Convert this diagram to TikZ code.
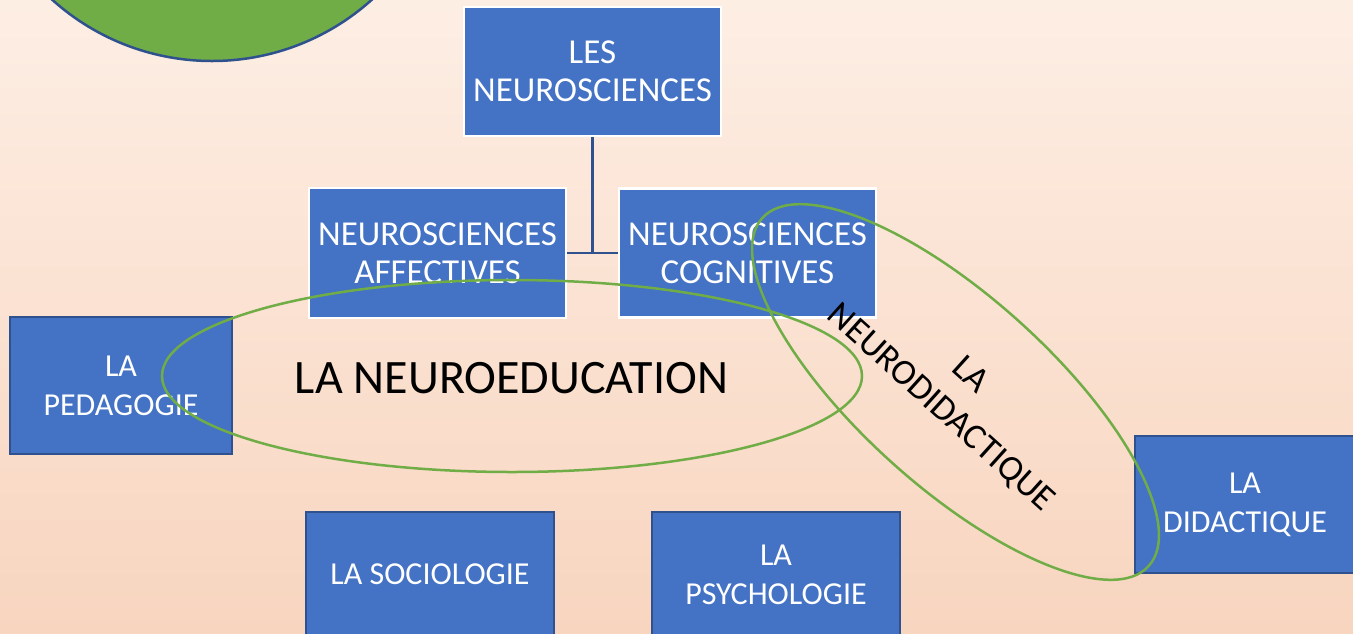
\documentclass[tikz,border=0pt]{standalone}
\usepackage{fontspec}
\setmainfont{Carlito}
\definecolor{bgtop}{HTML}{FDEEE4}
\definecolor{bgbot}{HTML}{F8D5BF}
\definecolor{boxblue}{HTML}{4472C4}
\definecolor{boxedge}{HTML}{2F528F}
\definecolor{lgreen}{HTML}{70AD47}
\tikzset{
  box/.style={rectangle, fill=boxblue, inner sep=0pt, align=center, text=white,
    font=\fontsize{32}{39}\selectfont},
  wbox/.style={box, draw=white, line width=2.5pt, font=\fontsize{35}{38}\selectfont},
  dbox/.style={box, draw=boxedge, line width=2pt},
  link/.style={draw=boxedge, line width=2.5pt},
  gring/.style={draw=lgreen, line width=2.5pt},
}
\begin{document}
\begin{tikzpicture}[x=1pt,y=1pt]
\useasboundingbox (0,0) rectangle (1353,-633);
\shade[top color=bgtop, bottom color=bgbot] (0,0) rectangle (1353,-633);
\begin{scope}
\clip (0,0) rectangle (1353,-633);
\draw[fill=lgreen, draw=boxedge, line width=2.5pt] (212,178) circle (239pt);
\node[wbox, minimum width=257pt, minimum height=129pt] (ns) at (592.5,-71.5) {LES\\NEUROSCIENCES};
\node[wbox, minimum width=257pt, minimum height=130pt] (aff) at (437.5,-253) {NEUROSCIENCES\\AFFECTIVES};
\node[wbox, minimum width=257pt, minimum height=129pt] (cog) at (747.5,-253) {NEUROSCIENCES\\COGNITIVES};
\node[dbox, minimum width=222pt, minimum height=137pt] (ped) at (121,-385.5) {LA\\PEDAGOGIE};
\node[dbox, minimum width=248pt, minimum height=124pt] (soc) at (430,-574) {LA SOCIOLOGIE};
\node[dbox, minimum width=248pt, minimum height=125pt] (psy) at (776,-574.5) {LA\\PSYCHOLOGIE};
\node[dbox, minimum width=220pt, minimum height=137pt] (did) at (1245,-504.5) {LA\\DIDACTIQUE};
\coordinate (j) at (ns.south |- aff.east);
\draw[link] (ns.south) -- (j);
\draw[link] (aff.east) -- (cog.west);
\draw[gring] (512,-376) ellipse [x radius=350pt, y radius=96pt];
\draw[gring, rotate around={-42:(955.5,-392)}] (955.5,-392) ellipse [x radius=260pt, y radius=95pt];
\node[font=\fontsize{48}{58}\selectfont, text=black, inner sep=0pt] (ne) at (511.5,-378) {LA NEUROEDUCATION};
\node[font=\fontsize{36}{44}\selectfont, text=black, inner sep=0pt, align=center, rotate=-42] (nd) at (955,-392) {LA\\NEURODIDACTIQUE};
\end{scope}
\end{tikzpicture}
\end{document}
